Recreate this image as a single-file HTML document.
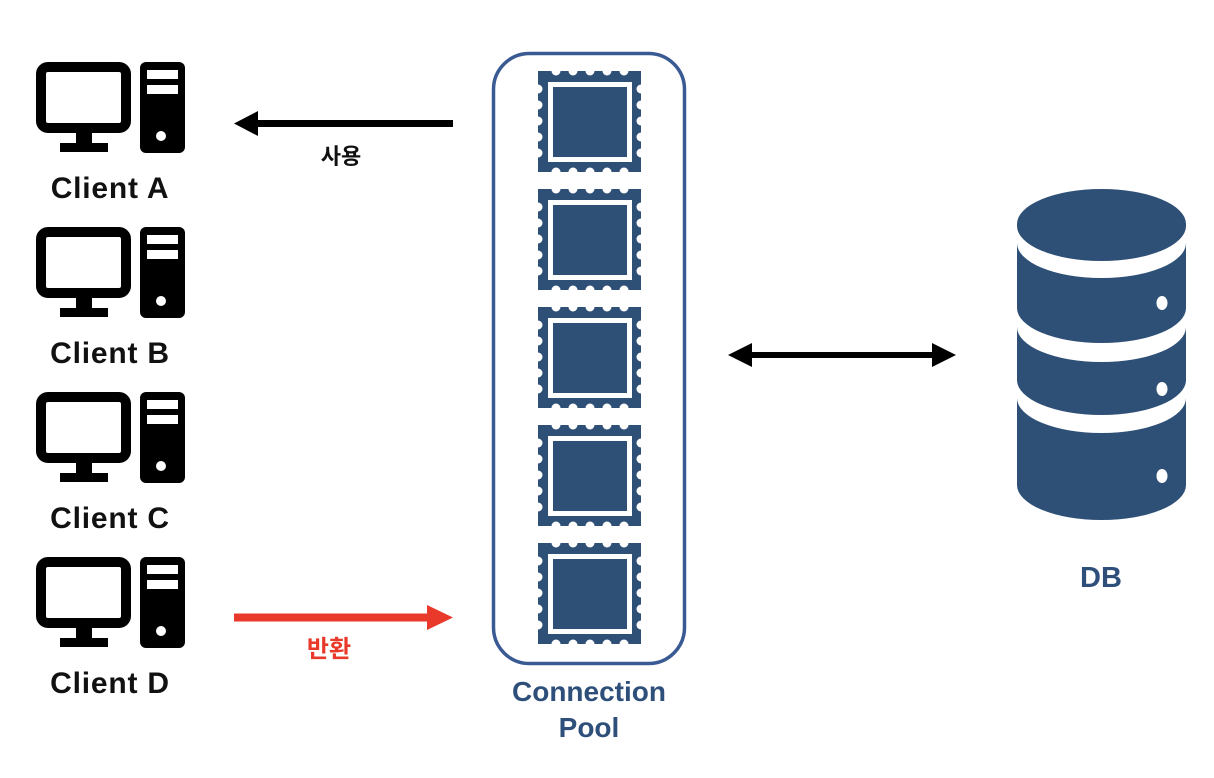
<!DOCTYPE html>
<html><head><meta charset="utf-8">
<style>
html,body{margin:0;padding:0;background:#fff;}
svg{display:block;}
text{font-family:"Liberation Sans","Noto Sans CJK KR",sans-serif;font-weight:bold;}
.cl{font-size:30px;letter-spacing:0.8px;}
</style></head>
<body>
<svg width="1214" height="778" viewBox="0 0 1214 778" xmlns="http://www.w3.org/2000/svg">
<defs>
  <g id="client">
    <rect x="41" y="67" width="85" height="61" rx="7" fill="none" stroke="#000" stroke-width="10"/>
    <rect x="76" y="132" width="16" height="12" fill="#000"/>
    <rect x="60" y="143" width="48" height="9" fill="#000"/>
    <rect x="140" y="62" width="45" height="91" rx="6" fill="#000"/>
    <rect x="147" y="70" width="31" height="9" fill="#fff"/>
    <rect x="147" y="85" width="31" height="9" fill="#fff"/>
    <circle cx="161" cy="136" r="5" fill="#fff"/>
  </g>
  <g id="stamp">
    <rect x="538" y="0" width="103" height="101" fill="#2e4f76"/>
    <g fill="#fff">
      <circle cx="556" cy="0" r="4.5"/><circle cx="573" cy="0" r="4.5"/><circle cx="590" cy="0" r="4.5"/><circle cx="607" cy="0" r="4.5"/><circle cx="624" cy="0" r="4.5"/>
      <circle cx="556" cy="101" r="4.5"/><circle cx="573" cy="101" r="4.5"/><circle cx="590" cy="101" r="4.5"/><circle cx="607" cy="101" r="4.5"/><circle cx="624" cy="101" r="4.5"/>
      <circle cx="538" cy="18" r="4.5"/><circle cx="538" cy="34" r="4.5"/><circle cx="538" cy="50" r="4.5"/><circle cx="538" cy="66" r="4.5"/><circle cx="538" cy="82" r="4.5"/>
      <circle cx="641" cy="18" r="4.5"/><circle cx="641" cy="34" r="4.5"/><circle cx="641" cy="50" r="4.5"/><circle cx="641" cy="66" r="4.5"/><circle cx="641" cy="82" r="4.5"/>
    </g>
    <rect x="550.5" y="13.5" width="79" height="75" fill="none" stroke="#fff" stroke-width="5"/>
  </g>
</defs>

<g><use href="#client"/>
<text class="cl" x="110" y="198" text-anchor="middle" fill="#111">Client A</text></g>
<g><use href="#client" y="165"/>
<text class="cl" x="110" y="363" text-anchor="middle" fill="#111">Client B</text></g>
<g><use href="#client" y="330"/>
<text class="cl" x="110" y="528" text-anchor="middle" fill="#111">Client C</text></g>
<g><use href="#client" y="495"/>
<text class="cl" x="110" y="693" text-anchor="middle" fill="#111">Client D</text></g>

<g>
  <rect x="255" y="120" width="198" height="7" fill="#000"/>
  <polygon points="234,123.5 258,111 258,136" fill="#000"/>
  <text x="341" y="164" font-size="22" text-anchor="middle" fill="#111">사용</text>
</g>
<g>
  <rect x="234" y="613.5" width="196" height="8" fill="#e8392a"/>
  <polygon points="453,617.5 427,605 427,630" fill="#e8392a"/>
  <text x="329" y="657" font-size="24" text-anchor="middle" fill="#e8392a">반환</text>
</g>

<rect x="493.5" y="53.5" width="191" height="610" rx="36" fill="none" stroke="#3a5a93" stroke-width="3.5"/>
<g><use href="#stamp" y="71"/></g>
<g><use href="#stamp" y="189"/></g>
<g><use href="#stamp" y="307"/></g>
<g><use href="#stamp" y="425"/></g>
<g><use href="#stamp" y="543"/></g>
<text x="589" y="701" font-size="28" text-anchor="middle" fill="#2e4f7a">Connection</text>
<text x="589" y="737" font-size="28" text-anchor="middle" fill="#2e4f7a">Pool</text>

<g>
  <rect x="750" y="352" width="184" height="6" fill="#000"/>
  <polygon points="728,355 752,343 752,367" fill="#000"/>
  <polygon points="956,355 932,343 932,367" fill="#000"/>
</g>

<g>
  <rect x="1017" y="224" width="169" height="261" fill="#2e4f76"/>
  <ellipse cx="1101.5" cy="485" rx="84.5" ry="35" fill="#2e4f76"/>
  <ellipse cx="1101.5" cy="224" rx="84.5" ry="35" fill="#2e4f76"/>
  <path d="M1017,226 A84.5,35 0 0 0 1186,226 L1186,243 A84.5,35 0 0 1 1017,243 Z" fill="#fff"/>
  <path d="M1017,308 A84.5,35 0 0 0 1186,308 L1186,327 A84.5,35 0 0 1 1017,327 Z" fill="#fff"/>
  <path d="M1017,380 A84.5,35 0 0 0 1186,380 L1186,398 A84.5,35 0 0 1 1017,398 Z" fill="#fff"/>
  <ellipse cx="1162" cy="303" rx="5.5" ry="7" fill="#fff"/>
  <ellipse cx="1162" cy="389" rx="5.5" ry="7" fill="#fff"/>
  <ellipse cx="1162" cy="476" rx="5.5" ry="7" fill="#fff"/>
</g>
<text x="1101" y="587" font-size="29" text-anchor="middle" fill="#2e4f7a">DB</text>
</svg>
</body></html>
